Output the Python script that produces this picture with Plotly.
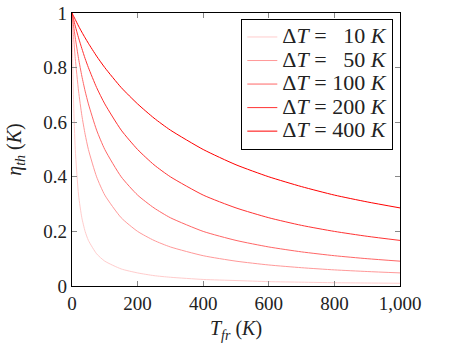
import plotly.graph_objects as go

# T_fr (K) sample positions and read-off efficiency values
t_fr = [0, 2, 5, 10, 20, 30, 40, 50, 75, 100, 150, 200, 250, 300, 400, 500, 600, 700, 800, 900, 1000]
eta_10 = [1, 0.833, 0.667, 0.5, 0.333, 0.25, 0.2, 0.167, 0.118, 0.091, 0.0625, 0.048, 0.038, 0.032, 0.024, 0.020, 0.016, 0.014, 0.012, 0.011, 0.010]
eta_50 = [1, 0.962, 0.909, 0.833, 0.714, 0.625, 0.556, 0.5, 0.4, 0.333, 0.25, 0.2, 0.167, 0.143, 0.111, 0.091, 0.077, 0.067, 0.059, 0.053, 0.048]
eta_100 = [1, 0.980, 0.952, 0.909, 0.833, 0.769, 0.714, 0.667, 0.571, 0.5, 0.4, 0.333, 0.286, 0.25, 0.2, 0.167, 0.143, 0.125, 0.111, 0.1, 0.091]
eta_200 = [1, 0.990, 0.976, 0.952, 0.909, 0.870, 0.833, 0.8, 0.727, 0.667, 0.571, 0.5, 0.444, 0.4, 0.333, 0.286, 0.25, 0.222, 0.2, 0.182, 0.167]
eta_400 = [1, 0.995, 0.988, 0.976, 0.952, 0.930, 0.909, 0.889, 0.842, 0.8, 0.727, 0.667, 0.615, 0.571, 0.5, 0.444, 0.4, 0.364, 0.333, 0.308, 0.286]

series_names = ["Δ<i>T</i> = \u200710 <i>K</i>", "Δ<i>T</i> = \u200750 <i>K</i>", "Δ<i>T</i> = 100 <i>K</i>",
                "Δ<i>T</i> = 200 <i>K</i>", "Δ<i>T</i> = 400 <i>K</i>"]
series_vals = [eta_10, eta_50, eta_100, eta_200, eta_400]
colors = ["rgb(255,204,204)", "rgb(255,153,153)", "rgb(255,102,102)", "rgb(255,51,51)", "rgb(255,0,0)"]

x_ticks = [0, 200, 400, 600, 800, 1000]
x_tick_text = ["0", "200", "400", "600", "800", "1,000"]
y_ticks = [0, 0.2, 0.4, 0.6, 0.8, 1]
y_tick_text = ["0", "0.2", "0.4", "0.6", "0.8", "1"]

FONT = "Liberation Serif"

fig = go.Figure()
for name, vals, c in zip(series_names, series_vals, colors):
    fig.add_trace(go.Scatter(x=t_fr, y=vals, mode="lines",
                             name='<span style="font-size:22px">' + name + '</span>',
                             line=dict(color=c, width=1, shape="spline", smoothing=0.6)))

axis_common = dict(showline=True, linecolor="black", linewidth=1.2, mirror="ticks",
                   ticks="inside", ticklen=5, tickcolor="#888", tickwidth=1,
                   showgrid=False, zeroline=False, automargin=False,
                   ticklabeloverflow="allow",
                   tickfont=dict(family=FONT, size=19, color="#222"))

fig.update_layout(
    width=454, height=356,
    margin=dict(l=72, r=54, t=13, b=70),
    paper_bgcolor="white", plot_bgcolor="white",
    font=dict(family=FONT, size=19, color="#222"),
    xaxis=dict(range=[0, 1000], tickvals=x_ticks, ticktext=x_tick_text,
               title=dict(text="<i>T<sub>fr</sub></i> (<i>K</i>)", font=dict(family=FONT, size=20), standoff=8),
               **axis_common),
    yaxis=dict(range=[0, 1], tickvals=y_ticks, ticktext=y_tick_text,
               title=dict(text="<i>η<sub>th</sub></i> (<i>K</i>)", font=dict(family=FONT, size=20), standoff=16),
               **axis_common),
    legend=dict(x=0.979, xanchor="right", y=0.978, yanchor="top",
                bgcolor="white", bordercolor="black", borderwidth=1.2,
                font=dict(family=FONT, size=15.8, color="#222"),
                tracegroupgap=0, itemwidth=30),
    showlegend=True,
)

fig.write_html("out.html", config={"displayModeBar": False},
               post_script="document.body.style.margin='0';")
